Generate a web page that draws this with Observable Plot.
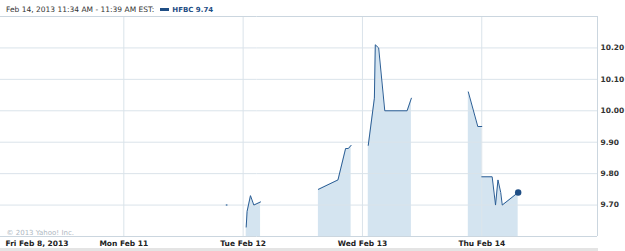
<!DOCTYPE html>
<html><head><meta charset="utf-8">
<script src="https://cdn.jsdelivr.net/npm/d3@7"></script>
<script src="https://cdn.jsdelivr.net/npm/@observablehq/plot@0.6"></script>
<style>
body{margin:0;background:#fff;width:625px;height:251px;overflow:hidden;font-family:"DejaVu Sans",Verdana,sans-serif}
#hdr{height:15px;position:relative;white-space:nowrap}
#hdr .t{position:absolute;left:6px;top:6px;line-height:8px;font-size:7.5px;color:#333}
#hdr .sw{display:inline-block;width:9px;height:3px;background:#1f4e85;margin-left:6px;margin-right:3px;vertical-align:1px}
#hdr .s{font-weight:bold;color:#1f4e85;font-size:7px}
#chart svg{display:block}
#bar{height:3px;width:598px;background:#e4e4e4}
</style></head>
<body>
<div id="hdr"><span class="t">Feb 14, 2013 11:34 AM - 11:39 AM EST:<span class="sw"></span><span class="s">HFBC 9.74</span></span></div>
<div id="chart"></div>
<div id="bar"></div>
<script>
const dayLabels = ["Fri Feb 8, 2013", "Mon Feb 11", "Tue Feb 12", "Wed Feb 13", "Thu Feb 14"];
const yTicks = [9.7, 9.8, 9.9, 10.0, 10.1, 10.2];
const yDomain = [9.6, 10.3];

// trades: trading-day index (0 = Fri Feb 8), time of day, price, continuous segment id
const tradeDay  = [2, 2, 2, 2, 2,   2, 2, 2, 2, 2,   3, 3, 3, 3, 3, 3, 3,   3, 3, 3,   4, 4, 4, 4, 4, 4, 4];
const tradeTime = ["09:40", "09:43", "09:54", "10:05", "10:27",
                   "13:36", "14:40", "15:05", "15:14", "15:23",
                   "09:49", "10:09", "10:12", "10:23", "10:43", "11:56", "12:10",
                   "15:16", "15:47", "16:00",
                   "09:30", "10:04", "10:15", "10:23", "10:32", "10:37", "11:29"];
const price     = [9.63, 9.68, 9.73, 9.70, 9.71,
                   9.75, 9.78, 9.88, 9.88, 9.89,
                   9.89, 10.04, 10.21, 10.20, 10.00, 10.00, 10.04,
                   10.06, 9.95, 9.95,
                   9.79, 9.79, 9.70, 9.78, 9.74, 9.70, 9.74];
const segment   = [1, 1, 1, 1, 1,   2, 2, 2, 2, 2,   3, 3, 3, 3, 3, 3, 3,   4, 4, 4,   5, 5, 5, 5, 5, 5, 5];

const loneDay = [1], loneTime = ["15:06"], lonePrice = [9.70];
const lastDay = [4], lastTime = ["11:29"], lastPrice = [9.74];

function pos(day, t) {
  const [h, m] = t.split(":").map(Number);
  return day + (h * 60 + m - 570) / 390;
}
const data = price.map((p, i) => ({x: pos(tradeDay[i], tradeTime[i]), price: p, segment: segment[i]}));
const lone = lonePrice.map((p, i) => ({x: pos(loneDay[i], loneTime[i]), price: p}));
const last = lastPrice.map((p, i) => ({x: pos(lastDay[i], lastTime[i]), price: p}));

const grid = "#dae3ea", border = "#cbd6df";

const chart = Plot.plot({
  width: 625, height: 233,
  marginTop: 1, marginBottom: 12, marginLeft: 0, marginRight: 28,
  x: {domain: [0, 4.97], range: [4, 597], axis: null, label: null},
  y: {domain: yDomain, axis: null, label: null},
  style: {fontFamily: "DejaVu Sans, Verdana, sans-serif", fontSize: "7.5px", fontWeight: "bold", color: "#333", background: "#fff"},
  marks: [
    Plot.areaY(data, {x: "x", y1: yDomain[0], y2: "price", z: "segment", fill: "#d4e4f0"}),
    Plot.gridY(yTicks, {stroke: grid, strokeOpacity: 1}),
    Plot.gridX([1, 2, 3, 4], {stroke: grid, strokeOpacity: 1}),
    Plot.ruleY([yDomain[0], yDomain[1]], {stroke: border}),
    Plot.ruleX([4.97], {stroke: border}),
    Plot.line(data, {x: "x", y: "price", z: "segment", stroke: "#2b5e95", strokeWidth: 1}),
    Plot.dot(lone, {x: "x", y: "price", r: 1, fill: "#6f93b8", stroke: null}),
    Plot.dot(last, {x: "x", y: "price", r: 3.2, fill: "#1f4e85", stroke: null}),
    Plot.axisY(yTicks, {anchor: "right", label: null, tickSize: 0, tickPadding: 3, tickFormat: d3.format(".2f"), textAnchor: "start", fill: "#333"}),
    Plot.axisX([1, 2, 3, 4], {anchor: "bottom", label: null, tickSize: 0, tickPadding: 4, tickFormat: d => dayLabels[d], fill: "#222"}),
    Plot.axisX([0], {anchor: "bottom", label: null, tickSize: 0, tickPadding: 4, tickFormat: d => dayLabels[d], textAnchor: "start", dx: 1, fill: "#222"}),
    Plot.text(["© 2013 Yahoo! Inc."], {frameAnchor: "bottom-left", dx: 6, dy: -2, fill: "#aeb7c2", fontSize: 7, fontWeight: "normal"})
  ]
});
document.getElementById("chart").appendChild(chart);
</script>
</body></html>
